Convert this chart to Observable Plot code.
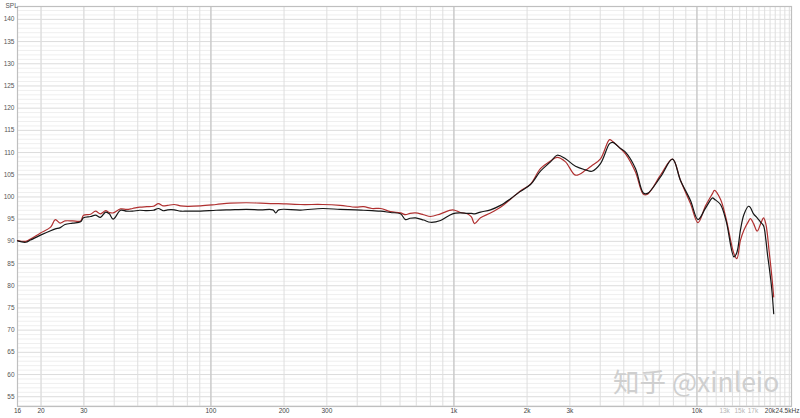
<!DOCTYPE html>
<html><head><meta charset="utf-8">
<script src="https://cdn.jsdelivr.net/npm/d3@7"></script>
<script src="https://cdn.jsdelivr.net/npm/@observablehq/plot@0.6"></script>
<style>
body{margin:0;background:#fff;}
#wrap{position:relative;width:800px;height:418px;overflow:hidden;}
#wm{position:absolute;left:613px;top:368px;font-family:"Noto Sans CJK SC","Noto Sans",sans-serif;font-size:26.5px;line-height:26px;color:#cfcfcf;white-space:nowrap;}
</style></head><body>
<div id="wrap"><div id="chart"></div><div id="wm">知乎 @xinleio</div></div>
<script>
// Frequency (Hz)
const freq = [16,17.3,18.1,19.9,21.9,22.9,24.0,25.1,27.0,29.1,29.9,32.0,33.5,35.1,36.9,38.2,39.6,42.5,45,47.6,51,54.5,58,60.8,63.5,66.4,70.6,75,80,90.6,105,120,140,160,180,185,190,234,288,340,394,425,460,500,548,603,632,660,695,750,801,881,987,1064,1135,1180,1216,1287,1414,1555,1710,1870,2066,2270,2497,2660,2879,3165,3479,3700,4010,4370,4500,4846,5082,5586,6020,6261,7082,7933,8560,9408,10100,10850,11600,11800,12500,13200,14200,14600,15100,15600,16300,16600,17100,17700,18300,18800,19200,19500,19800,20300,20700];
// Black curve SPL (dB)
const blackSPL = [90.1,89.8,90.3,91.4,92.4,92.8,93.1,93.8,94.1,94.4,95.3,95.6,95.9,95.4,96.6,96.2,95.0,97.0,96.8,96.8,97.0,96.9,97.0,97.4,96.9,97.1,97.1,96.8,96.8,96.8,97.0,97.1,97.2,97.1,97.1,96.4,97.1,97.05,97.4,97.2,97.1,97.0,96.9,96.8,96.5,96.2,94.9,95.2,95.3,94.8,94.3,94.7,96.2,96.4,96.3,96.3,96.2,96.6,97.1,98.1,99.6,101.2,102.8,105.8,107.9,109.4,108.6,106.9,106.1,105.8,107.5,112.0,112.3,110.9,110.1,106.4,100.9,100.8,104.5,108.5,103.7,99.2,94.9,97.5,99.8,99.5,98.3,94.5,86.5,87.5,92.5,96.0,97.9,97.6,96.2,95.3,94.3,93.5,90.5,87.2,84.5,79.5,73.7];
// Red curve SPL (dB)
const redSPL = [90.2,90.0,90.5,91.9,93.2,94.9,94.1,94.6,94.6,94.6,95.9,96.1,96.8,96.2,96.9,96.5,96.4,97.3,97.2,97.4,97.7,97.8,97.9,98.5,98.0,98.1,98.3,98.0,97.9,98.0,98.3,98.6,98.7,98.6,98.5,98.5,98.5,98.3,98.3,98.1,97.7,97.8,97.4,97.4,96.7,96.4,96.0,96.3,96.4,96.0,95.6,96.2,97.1,96.5,96.2,95.5,94.0,95.3,96.4,97.7,99.5,101.3,102.9,106.4,108.1,108.9,107.9,104.9,106.0,107.1,108.6,112.9,112.5,110.9,109.7,105.6,100.6,100.6,104.9,108.5,103.7,98.5,94.2,98.0,100.8,101.5,99.5,95.0,87.2,86.1,90.2,92.5,94.5,95.1,94.0,92.3,94.0,95.3,94.0,91.5,88.0,82.5,77.5];
// Axis ticks
const xTicks = [16,20,30,40,50,60,70,80,90,100,200,300,400,500,600,700,800,900,1000,2000,3000,4000,5000,6000,7000,8000,9000,10000,20000];
const xTickLabels = ["16","20","30","40","50","60","70","80","90","100","200","300","400","500","600","700","800","900","1k","2k","3k","4k","5k","6k","7k","8k","9k","10k","20k"];
const xEndTick = [24500];
const xEndLabel = ["24.5kHz"];
const xLightTicks = [13000,15000,17000];
const xLightLabels = ["13k","15k","17k"];
const yTicks = [55,60,65,70,75,80,85,90,95,100,105,110,115,120,125,130,135,140];

const rows = freq.map((f, i) => ({f, b: blackSPL[i], r: redSPL[i]}));
const decades = [100, 1000, 10000];
const gridX = [];
for (const d of [10, 100, 1000]) for (let k = 2; k <= 9; k++) { const v = k * d; if (v >= 20) gridX.push(v); }
for (let k = 11; k <= 24; k++) gridX.push(k * 1000);
gridX.push(20, 30);
const gridYMinor = d3.range(53, 143).filter(v => v % 5 !== 0);
const lab = new Map(xTicks.map((t, i) => [t, xTickLabels[i]]));
const labL = new Map(xLightTicks.map((t, i) => [t, xLightLabels[i]]));
const labE = new Map(xEndTick.map((t, i) => [t, xEndLabel[i]]));

const chart = Plot.plot({
  width: 800, height: 418,
  marginLeft: 17, marginRight: 9, marginTop: 6, marginBottom: 12,
  style: {fontFamily: "'Liberation Sans', Arial, sans-serif", fontSize: "6.5px", background: "#fff", overflow: "visible"},
  x: {type: "log", domain: [16, 24500]},
  y: {domain: [52.8, 142.9]},
  marks: [
    Plot.ruleY(gridYMinor, {stroke: "#efefef", strokeWidth: 1}),
    Plot.ruleY(yTicks, {stroke: "#dcdcdc", strokeWidth: 1}),
    Plot.ruleX(gridX, {stroke: "#dedede", strokeWidth: 1}),
    Plot.ruleX(decades, {stroke: "#cacaca", strokeWidth: 1.5}),
    Plot.frame({stroke: "#bfbfbf", strokeWidth: 1.2}),
    Plot.axisY(yTicks, {tickSize: 0, tickPadding: 3, fill: "#555", fontSize: 6.5, label: null}),
    Plot.axisX(xTicks, {tickSize: 0, tickPadding: 2, fill: "#444", fontSize: 6.5, label: null, tickFormat: d => lab.get(d)}),
    Plot.axisX(xEndTick, {tickSize: 0, tickPadding: 2, fill: "#444", fontSize: 6.5, label: null, dx: -4, tickFormat: d => labE.get(d)}),
    Plot.axisX(xLightTicks, {tickSize: 0, tickPadding: 2, fill: "#b5b5b5", fontSize: 6.5, label: null, tickFormat: d => labL.get(d)}),
    Plot.text(["SPL"], {frameAnchor: "top-left", dx: -12, dy: -3, textAnchor: "start", fill: "#555", fontSize: 6.5}),
    Plot.line(rows, {x: "f", y: "r", stroke: "#b03030", strokeWidth: 1.2, curve: "catmull-rom"}),
    Plot.line(rows, {x: "f", y: "b", stroke: "#161616", strokeWidth: 1.2, curve: "catmull-rom"})
  ]
});
document.getElementById("chart").appendChild(chart);
</script>
</body></html>
